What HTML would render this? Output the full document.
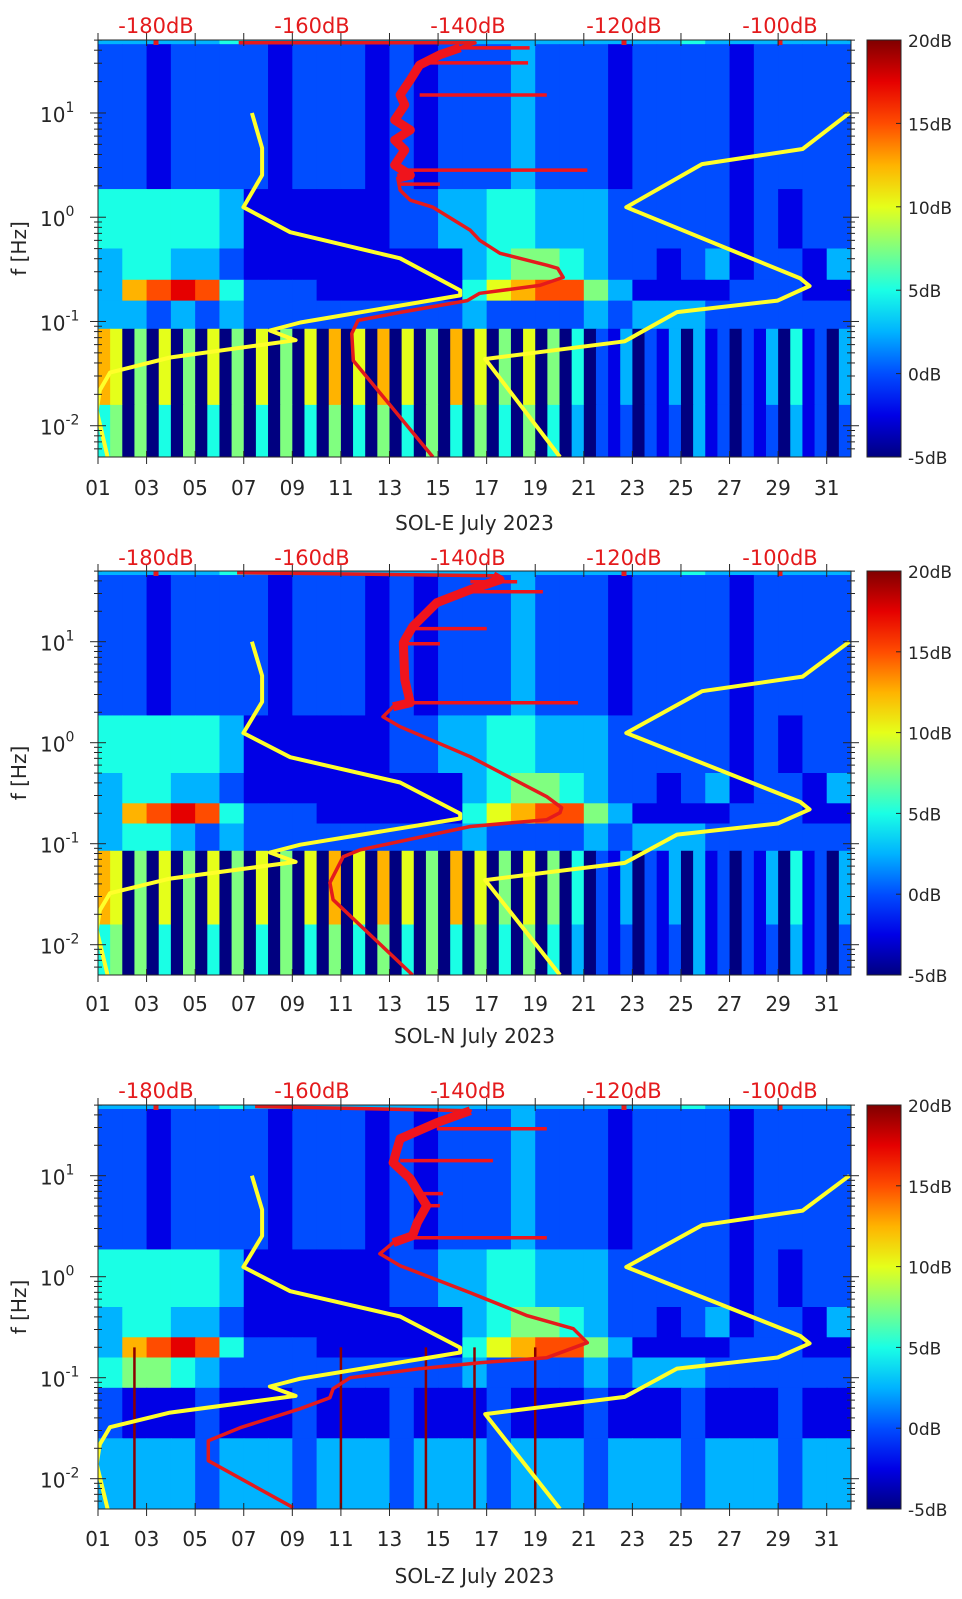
<!DOCTYPE html>
<html><head><meta charset="utf-8">
<style>
html,body{margin:0;padding:0;background:#fff;}
svg{display:block;font-family:"DejaVu Sans","Liberation Sans",sans-serif;}
</style></head>
<body>
<svg id="fig" width="962" height="1599" viewBox="0 0 962 1599" xmlns="http://www.w3.org/2000/svg"></svg>
<script>
// ---- data ----
const dayTicks = [1,3,5,7,9,11,13,15,17,19,21,23,25,27,29,31];
const dayTickLabels = ["01","03","05","07","09","11","13","15","17","19","21","23","25","27","29","31"];
const dbTicks = [-180,-160,-140,-120,-100];
const dbTickLabels = ["-180dB","-160dB","-140dB","-120dB","-100dB"];
const decadeTicks = [1,0,-1,-2];
const cbTicks = [20,15,10,5,0,-5];
const cbTickLabels = ["20dB","15dB","10dB","5dB","0dB","-5dB"];
const panelTitles = ["SOL-E July 2023","SOL-N July 2023","SOL-Z July 2023"];

// low noise model (dB, log10 f)
const nlnmDb =   [-167.7,-166.4,-166.4,-168.8,-162.8,-148.7,-141.0,-141.0,-161.5,-165.4,-162.1,-178.2,-185.9,-187.2,-187.6,-186.2];
const nlnmLogF = [1.0,0.663,0.404,0.096,-0.144,-0.394,-0.702,-0.75,-1.01,-1.087,-1.18,-1.346,-1.49,-1.66,-1.856,-2.30];
// high noise model
const nhnmDb =   [-91.1,-97.1,-110.0,-119.7,-97.4,-96.2,-100.3,-113.2,-119.9,-137.8,-128.2];
const nhnmLogF = [1.0,0.654,0.51,0.096,-0.587,-0.66,-0.8,-0.91,-1.19,-1.36,-2.30];

// observed PSD per panel
const psdDbE =   [-144.5,-154.7,-154.9,-154.1,-148.7,-140.1,-138.5,-130.8,-127.8,-128.5,-129.9,-135.9,-138.5,-139.7,-144.5,-147.4,-148.7,-149.0,-147.4,-149.4,-148.1,-149.4,-147.4,-149.4,-148.1,-148.7,-147.4,-146.2,-143.6,-141.0,-139.1,-169.4];
const psdLogFE = [-2.30,-1.375,-1.115,-0.99,-0.913,-0.80,-0.73,-0.654,-0.577,-0.49,-0.46,-0.346,-0.221,-0.125,0.096,0.163,0.26,0.375,0.404,0.5,0.644,0.74,0.837,0.933,1.077,1.173,1.317,1.46,1.558,1.625,1.673,1.673];
const psdDbN =   [-147.1,-157.3,-157.7,-156.0,-153.8,-139.7,-129.9,-128.2,-128.0,-129.9,-139.7,-148.7,-150.9,-149.6,-147.4,-148.1,-148.3,-147.1,-144.0,-139.7,-135.9,-136.8,-169.6];
const psdLogFN = [-2.30,-1.554,-1.386,-1.129,-1.06,-0.83,-0.762,-0.693,-0.644,-0.535,-0.139,0.158,0.257,0.356,0.396,0.624,0.99,1.149,1.386,1.515,1.614,1.653,1.683];
const psdDbZ =   [-162.4,-173.3,-173.3,-169.2,-161.5,-157.7,-157.3,-155.1,-146.2,-138.5,-129.9,-124.7,-126.5,-132.4,-139.7,-148.7,-151.3,-149.6,-147.1,-146.5,-145.3,-147.4,-149.6,-148.7,-144.0,-139.7,-167.3];
const psdLogFZ = [-2.287,-1.822,-1.624,-1.495,-1.307,-1.198,-1.109,-1.0,-0.911,-0.851,-0.802,-0.653,-0.515,-0.386,-0.158,0.109,0.228,0.337,0.406,0.535,0.703,0.97,1.129,1.366,1.525,1.644,1.685];
// spikes: start dB, end dB, log f
const spikeStartE = [-148.7,-148.7,-146.2,-146.2,-141.0];
const spikeEndE =   [-124.7,-143.6,-129.9,-132.3,-132.1];
const spikeLogFE =  [0.452,0.317,1.173,1.48,1.625];
const spikeStartN = [-148.7,-139.7,-139.7,-147.4,-148.1];
const spikeEndN =   [-125.9,-130.4,-133.7,-137.6,-143.6];
const spikeLogFN =  [0.396,1.495,1.594,1.129,0.98];
const spikeStartZ = [-147.1,-144.0,-148.7,-146.2,-145.3];
const spikeEndZ =   [-129.9,-129.9,-136.8,-143.2,-143.6];
const spikeLogFZ =  [0.386,1.465,1.149,0.822,0.703];
const topDotsDb = [-180,-120,-100];

// spectrogram bands: [logf top, logf bottom, level codes per column]; level dB = -5 + code*2.5
const specRowsE = [
 [1.70,1.66,"3333343333333333333333334333333"],
 [1.66,0.27,"2212222122212122232221222212222"],
 [0.27,-0.30,"4444431111112233443332222212122"],
 [-0.30,-0.60,"3443321111111113455432212312213"],
 [-0.60,-0.80,"3789842221111114678853111122211"],
 [-0.80,-1.07,"3323232222222223222232333222222"],
 [-1.07,-1.80,"76050605060506050607060706050706050605040213021303120213041203"],
 [-1.80,-2.30,"45050405040504050405040504050405040504030212021203120212031202"]
];
const specRowsN = [
 [1.70,1.66,"3333343333333333333333334333333"],
 [1.66,0.27,"2212222122212122232221222212222"],
 [0.27,-0.30,"4444431111112233443332222212122"],
 [-0.30,-0.60,"3443321111111113455432212312213"],
 [-0.60,-0.80,"3789842221111114678853111122211"],
 [-0.80,-1.07,"3443232222222223222232333222222"],
 [-1.07,-1.80,"76050605060506050607060706050706050605040213021303120213041203"],
 [-1.80,-2.30,"45050405040504050405040504050405040504030212021203120212031202"]
];
const specRowsZ = [
 [1.70,1.66,"3333343333333333333333334333333"],
 [1.66,0.27,"2212222122212122232221222212222"],
 [0.27,-0.30,"4444431111112233443332222212122"],
 [-0.30,-0.60,"3443321111111113455432212312213"],
 [-0.60,-0.80,"3789842221111114678853111122211"],
 [-0.80,-1.10,"4554322222222223222232333222222"],
 [-1.10,-1.60,"2111211121112111211121112111211"],
 [-1.60,-2.30,"3333233323332333233323332333233"]
];
const redLineDaysZ = [2.5,11.0,14.5,16.5,19.0];

// ---- layout ----
const panels = [
 {top:40, h:417, rows:specRowsE, db:psdDbE, lf:psdLogFE, ss:spikeStartE, se:spikeEndE, sl:spikeLogFE, dbY:25, tickY:487, titleY:522, name:"sol-e"},
 {top:571, h:404, rows:specRowsN, db:psdDbN, lf:psdLogFN, ss:spikeStartN, se:spikeEndN, sl:spikeLogFN, dbY:557, tickY:1003, titleY:1035, name:"sol-n"},
 {top:1105, h:404, rows:specRowsZ, db:psdDbZ, lf:psdLogFZ, ss:spikeStartZ, se:spikeEndZ, sl:spikeLogFZ, dbY:1090, tickY:1538, titleY:1575, name:"sol-z"}
];
const X0 = 98, X1 = 851, CB0 = 867, CB1 = 901;
const LF_TOP = 1.70, LF_BOT = -2.30;
const NS = "http://www.w3.org/2000/svg";
const svg = document.getElementById("fig");

function xDay(d){ return X0 + (d-1)*(X1-X0)/31; }
function xDb(db){ return 156 + (db+180)*7.8; }
function yF(p, lf){ return p.top + (LF_TOP-lf)/(LF_TOP-LF_BOT)*p.h; }
function jet(v){
  let t = Math.max(0, Math.min(1, (v+5)/25));
  const c = x => Math.round(255*Math.max(0, Math.min(1, x)));
  return "rgb("+c(1.5-Math.abs(4*t-3))+","+c(1.5-Math.abs(4*t-2))+","+c(1.5-Math.abs(4*t-1))+")";
}
function mk(tag, attrs, parent){
  const e = document.createElementNS(NS, tag);
  for (const k in attrs) e.setAttribute(k, attrs[k]);
  (parent||svg).appendChild(e);
  return e;
}

panels.forEach((p, pi) => {
  const g = mk("g", {});
  
  
  const defs = mk("defs", {}, g);
  const cp = mk("clipPath", {id:"clip"+pi}, defs);
  mk("rect", {x:X0, y:p.top, width:X1-X0, height:p.h}, cp);

  const heat = mk("g", {"clip-path":"url(#clip"+pi+")"}, g);
  
  
  p.rows.forEach(r => {
    const n = r[2].length, y0 = yF(p, r[0]), y1 = yF(p, r[1]);
    const w = (X1-X0)/n;
    for (let i=0;i<n;i++){
      const v = -5 + parseInt(r[2][i])*2.5;
      const cell = mk("rect", {x:X0+i*w, y:y0, width:w+0.6, height:y1-y0+0.6, fill:jet(v)}, heat);
      
      
    }
  });
  if (pi===2){
    redLineDaysZ.forEach(d => {
      const l = mk("line", {x1:xDay(d), x2:xDay(d), y1:yF(p,-0.7), y2:yF(p,-2.3), stroke:"#8b0000", "stroke-width":2.5}, heat);
      
      
    });
  }
  const toPts = (dbs, lfs) => dbs.map((d,i)=> xDb(d).toFixed(1)+","+yF(p,lfs[i]).toFixed(1)).join(" ");
  const lo = mk("polyline", {points:toPts(nlnmDb,nlnmLogF), fill:"none", stroke:"#ffff2a", "stroke-width":4, "stroke-linejoin":"round"}, heat);
  
  
  const hi = mk("polyline", {points:toPts(nhnmDb,nhnmLogF), fill:"none", stroke:"#ffff2a", "stroke-width":4, "stroke-linejoin":"round"}, heat);
  
  
  const psd = mk("polyline", {points:toPts(p.db,p.lf), fill:"none", stroke:"#e41a1c", "stroke-width":3.5, "stroke-linejoin":"round"}, heat);
  
  
  const upIdx = p.lf.map((v,i)=>i).filter(i => p.lf[i] > 0.3 && p.lf[i] < 1.66);
  const upper = mk("polyline", {points:toPts(upIdx.map(i=>p.db[i]), upIdx.map(i=>p.lf[i])), fill:"none", stroke:"#f0141c", "stroke-width":9, "stroke-linejoin":"round"}, heat);
  
  
  p.ss.forEach((s,i) => {
    const sp = mk("line", {x1:xDb(s), x2:xDb(p.se[i]), y1:yF(p,p.sl[i]), y2:yF(p,p.sl[i]), stroke:"#f0141c", "stroke-width":3.5}, heat);
    
    
  });
  topDotsDb.forEach(d => {
    const dot = mk("rect", {x:xDb(d)-2.5, y:p.top, width:5, height:5, fill:"#e41a1c"}, heat);
    
    
  });

  const box = mk("rect", {x:X0, y:p.top, width:X1-X0, height:p.h, fill:"none", stroke:"#262626", "stroke-width":1}, g);
  
  
  dayTicks.forEach((d,i) => {
    const x = xDay(d);
    mk("line", {x1:x,x2:x,y1:p.top+p.h,y2:p.top+p.h-6,stroke:"#262626"}, g);
    mk("line", {x1:x,x2:x,y1:p.top,y2:p.top+6,stroke:"#262626"}, g);
    mk("line", {x1:x,x2:x,y1:p.top,y2:p.top-7,stroke:"#262626"}, g);
    mk("line", {x1:x,x2:x,y1:p.top+p.h,y2:p.top+p.h+7,stroke:"#262626"}, g);
    const t = mk("text", {x:x, y:p.tickY+8, "font-size":20, fill:"#262626", "text-anchor":"middle"}, g);
    t.textContent = dayTickLabels[i];
    
    
  });
  const tt = mk("text", {x:(X0+X1)/2, y:p.titleY+8, "font-size":20, fill:"#262626", "text-anchor":"middle"}, g);
  tt.textContent = panelTitles[pi];
  
  
  dbTicks.forEach((d,i) => {
    const t = mk("text", {x:xDb(d), y:p.dbY+8, "font-size":21, fill:"#e41a1c", "text-anchor":"middle"}, g);
    t.textContent = dbTickLabels[i];
    
    
  });
  for (let dec=-3; dec<=1; dec++){
    for (let k=1;k<=9;k++){
      const lf = dec + Math.log10(k);
      if (lf < LF_BOT || lf > LF_TOP) continue;
      const y = yF(p, lf), L = k===1?8:4;
      mk("line", {x1:X0-L,x2:X0,y1:y,y2:y,stroke:"#262626"}, g);
      mk("line", {x1:X0,x2:X0+L,y1:y,y2:y,stroke:"#262626"}, g);
      mk("line", {x1:X1-L,x2:X1+L,y1:y,y2:y,stroke:"#262626"}, g);
    }
  }
  decadeTicks.forEach(dec => {
    const y = yF(p, dec);
    const t = mk("text", {x:40, y:y+9, "font-size":20, fill:"#262626"}, g);
    
    
    const a = mk("tspan", {}, t); a.textContent = "10";
    const b = mk("tspan", {dy:-10, "font-size":14}, t); b.textContent = String(dec);
  });
  const yl = mk("text", {x:0,y:0,"font-size":20,fill:"#262626","text-anchor":"middle",transform:"translate(26,"+(p.top+p.h*0.5)+") rotate(-90)"}, g);
  yl.textContent = "f [Hz]";
  
  

  const gid = "cbg"+pi;
  const lg = mk("linearGradient", {id:gid, x1:0, y1:1, x2:0, y2:0}, defs);
  for (let s=0;s<=10;s++){
    mk("stop", {offset:s/10, "stop-color":jet(-5+25*s/10)}, lg);
  }
  const cb = mk("rect", {x:CB0, y:p.top, width:CB1-CB0, height:p.h, fill:"url(#"+gid+")", stroke:"#262626", "stroke-width":1}, g);
  
  
  cbTicks.forEach((v,i) => {
    const y = p.top + (20-v)/25*p.h;
    mk("line", {x1:CB1-5,x2:CB1,y1:y,y2:y,stroke:"#262626"}, g);
    const t = mk("text", {x:CB1+7, y:y+7, "font-size":17, fill:"#262626"}, g);
    t.textContent = cbTickLabels[i];
    
    
  });
});
</script>
</body></html>
